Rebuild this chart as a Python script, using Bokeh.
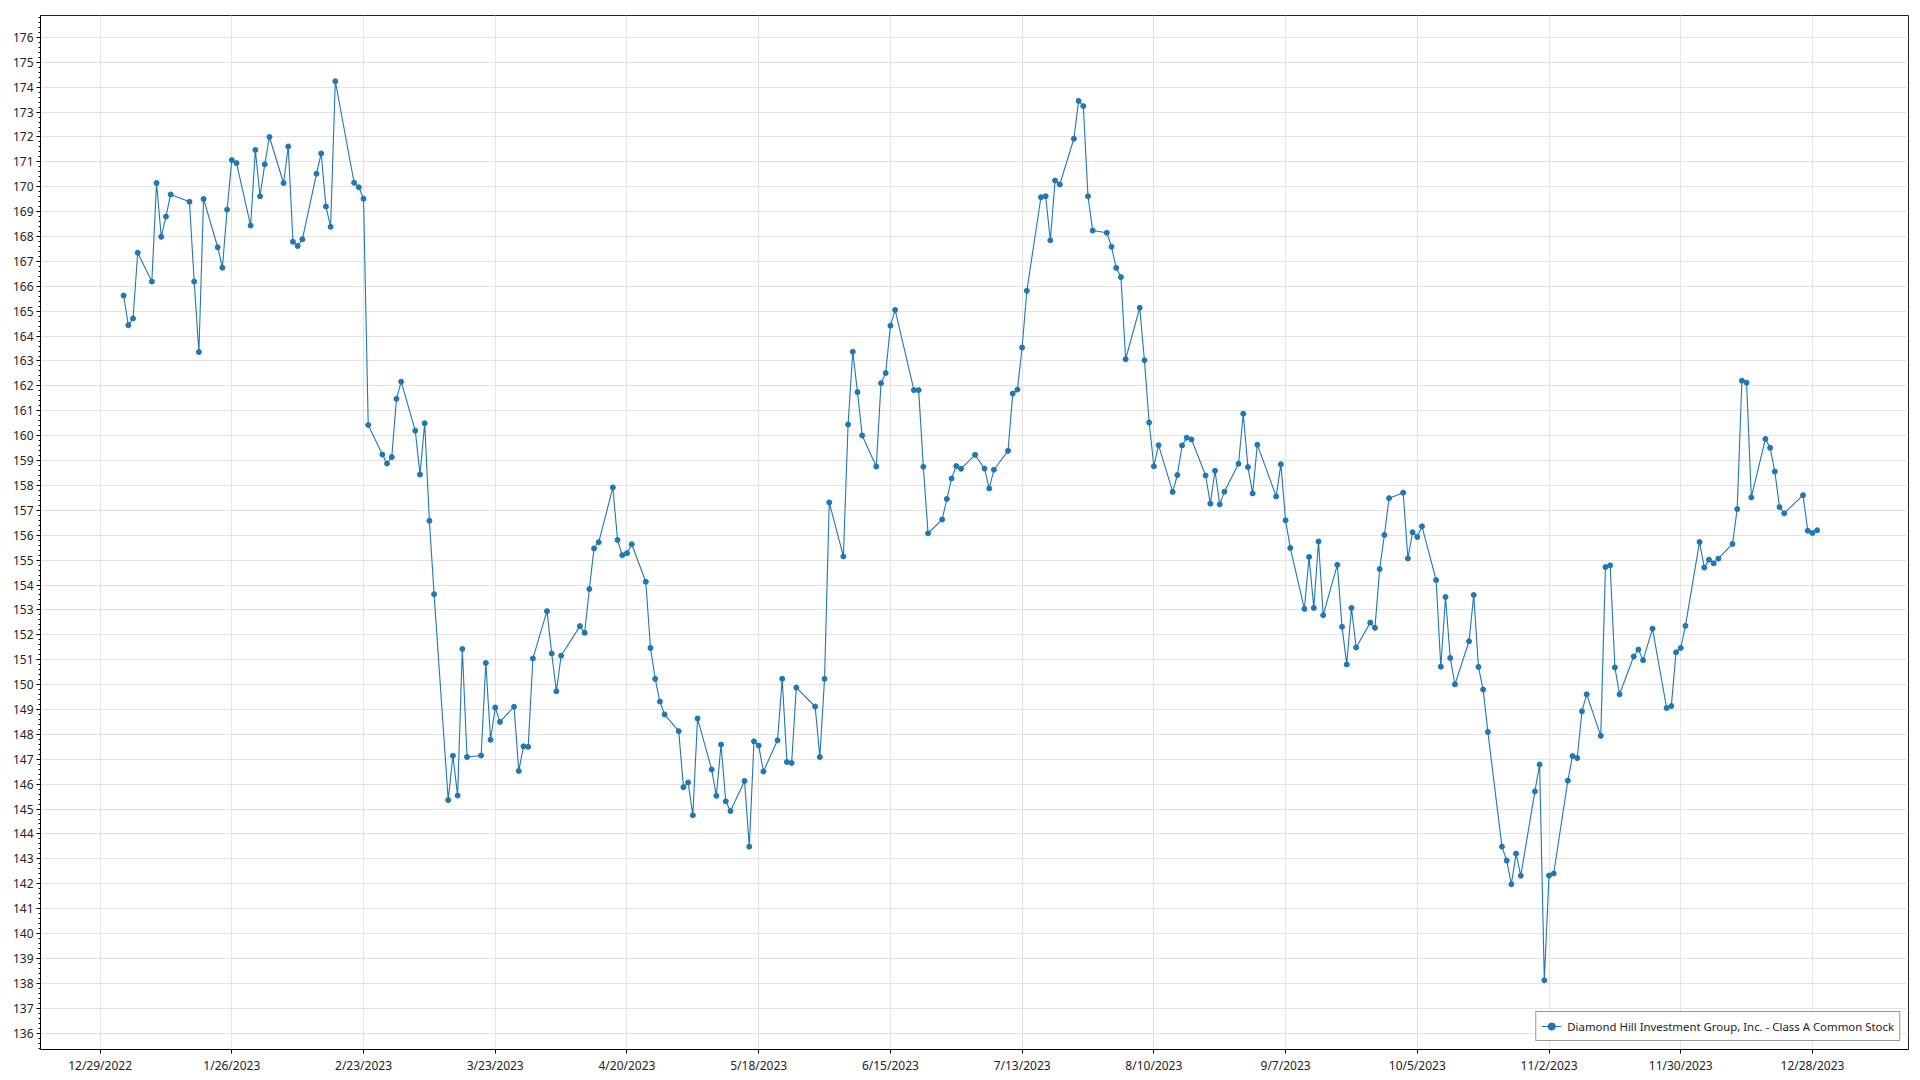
import pandas as pd
from bokeh.plotting import figure
from bokeh.models import (Range1d, FixedTicker, SingleIntervalTicker, CustomJSTickFormatter,
                          ColumnDataSource, Legend, LegendItem)
from bokeh.embed import file_html
from bokeh.resources import INLINE

series_name = "Diamond Hill Investment Group, Inc. - Class A Common Stock"

# trading days per month (2023) and closing values
days_jan = [3, 4, 5, 6, 9, 10, 11, 12, 13, 17, 18, 19, 20, 23, 24, 25, 26, 27, 30, 31]
vals_jan = [165.63, 164.44, 164.71, 167.35, 166.19, 170.15, 167.99, 168.80, 169.69, 169.40,
            166.19, 163.36, 169.51, 167.57, 166.75, 169.08, 171.07, 170.95, 168.44, 171.48]
days_feb = [1, 2, 3, 6, 7, 8, 9, 10, 13, 14, 15, 16, 17, 21, 22, 23, 24, 27, 28]
vals_feb = [169.62, 170.90, 172.00, 170.15, 171.62, 167.79, 167.62, 167.89, 170.52, 171.34,
            169.21, 168.39, 174.24, 170.16, 169.98, 169.52, 160.43, 159.24, 158.88]
days_mar = [1, 2, 3, 6, 7, 8, 9, 10, 13, 14, 15, 16, 17, 20, 21, 22, 23, 24, 27, 28, 29, 30, 31]
vals_mar = [159.14, 161.48, 162.17, 160.20, 158.44, 160.50, 156.58, 153.63, 145.36, 147.14,
            145.54, 151.43, 147.09, 147.15, 150.87, 147.78, 149.08, 148.50, 149.11, 146.53,
            147.52, 147.50, 151.05]
days_apr = [3, 4, 5, 6, 10, 11, 12, 13, 14, 17, 18, 19, 20, 21, 24, 25, 26, 27, 28]
vals_apr = [152.95, 151.25, 149.73, 151.16, 152.35, 152.08, 153.84, 155.47, 155.72, 157.92,
            155.81, 155.20, 155.28, 155.64, 154.13, 151.47, 150.23, 149.32, 148.80]
days_may = [1, 2, 3, 4, 5, 8, 9, 10, 11, 12, 15, 16, 17, 18, 19, 22, 23, 24, 25, 26, 30, 31]
vals_may = [148.13, 145.88, 146.07, 144.75, 148.64, 146.59, 145.53, 147.59, 145.31, 144.92,
            146.13, 143.49, 147.72, 147.55, 146.51, 147.76, 150.23, 146.89, 146.85, 149.88,
            149.12, 147.09]
days_jun = [1, 2, 5, 6, 7, 8, 9, 12, 13, 14, 15, 16, 20, 21, 22, 23, 26, 27, 28, 29, 30]
vals_jun = [150.23, 157.32, 155.15, 160.45, 163.37, 161.75, 160.01, 158.76, 162.11, 162.52,
            164.42, 165.05, 161.83, 161.83, 158.75, 156.08, 156.63, 157.46, 158.28, 158.78, 158.67]
days_jul = [3, 5, 6, 7, 10, 11, 12, 13, 14, 17, 18, 19, 20, 21, 24, 25, 26, 27, 28, 31]
vals_jul = [159.23, 158.68, 157.88, 158.63, 159.39, 161.69, 161.85, 163.54, 165.82, 169.58,
            169.62, 167.85, 170.25, 170.09, 171.93, 173.45, 173.24, 169.62, 168.24, 168.15]
days_aug = [1, 2, 3, 4, 7, 8, 9, 10, 11, 14, 15, 16, 17, 18, 21, 22, 23, 24, 25, 28, 29, 30, 31]
vals_aug = [167.59, 166.74, 166.37, 163.07, 165.14, 163.03, 160.53, 158.77, 159.62, 157.74,
            158.42, 159.61, 159.92, 159.85, 158.40, 157.27, 158.59, 157.24, 157.75, 158.87,
            160.88, 158.74, 157.68]
days_sep = [1, 5, 6, 7, 8, 11, 12, 13, 14, 15, 18, 19, 20, 21, 22, 25, 26, 27, 28, 29]
vals_sep = [159.64, 157.56, 158.85, 156.60, 155.49, 153.04, 155.13, 153.08, 155.75, 152.79,
            154.81, 152.32, 150.81, 153.08, 151.49, 152.49, 152.28, 154.64, 156.01, 157.49]
days_oct = [2, 3, 4, 5, 6, 9, 10, 11, 12, 13, 16, 17, 18, 19, 20, 23, 24, 25, 26, 27, 30, 31]
vals_oct = [157.71, 155.07, 156.12, 155.93, 156.36, 154.20, 150.72, 153.52, 151.07, 150.01,
            151.74, 153.60, 150.71, 149.80, 148.10, 143.49, 142.93, 141.98, 143.21, 142.32,
            145.71, 146.79]
days_nov = [1, 2, 3, 6, 7, 8, 9, 10, 13, 14, 15, 16, 17, 20, 21, 22, 24, 27, 28, 29, 30]
vals_nov = [138.12, 142.33, 142.41, 146.14, 147.13, 147.05, 148.93, 149.61, 147.94, 154.72,
            154.79, 150.69, 149.61, 151.13, 151.41, 150.98, 152.25, 149.06, 149.14, 151.30, 151.47]
days_dec = [1, 4, 5, 6, 7, 8, 11, 12, 13, 14, 15, 18, 19, 20, 21, 22, 26, 27, 28, 29]
vals_dec = [152.36, 155.73, 154.70, 155.02, 154.87, 155.06, 155.65, 157.05, 162.21, 162.13,
            157.52, 159.87, 159.51, 158.56, 157.13, 156.88, 157.61, 156.18, 156.09, 156.20]

tick_dates = ["2022-12-29", "2023-01-26", "2023-02-23", "2023-03-23", "2023-04-20",
              "2023-05-18", "2023-06-15", "2023-07-13", "2023-08-10", "2023-09-07",
              "2023-10-05", "2023-11-02", "2023-11-30", "2023-12-28"]

months = [(1, days_jan, vals_jan), (2, days_feb, vals_feb), (3, days_mar, vals_mar),
          (4, days_apr, vals_apr), (5, days_may, vals_may), (6, days_jun, vals_jun),
          (7, days_jul, vals_jul), (8, days_aug, vals_aug), (9, days_sep, vals_sep),
          (10, days_oct, vals_oct), (11, days_nov, vals_nov), (12, days_dec, vals_dec)]

dates, closes = [], []
for m, ds, vs in months:
    for d, v in zip(ds, vs):
        dates.append(pd.Timestamp(2023, m, d))
        closes.append(v)

src = ColumnDataSource(dict(date=dates, close=closes))

color = "#1f77b4"
font = "Noto Sans"

p = figure(width=1916, height=1076, x_axis_type="datetime", output_backend="svg",
           toolbar_location=None,
           x_range=Range1d(pd.Timestamp("2022-12-16 08:00"), pd.Timestamp("2024-01-17 10:00")),
           y_range=Range1d(135.34, 176.88),
           min_border_left=40, min_border_right=8, min_border_top=15, min_border_bottom=26)

p.background_fill_color = "white"
p.border_fill_color = "white"
p.outline_line_color = "#222222"
p.outline_line_width = 1

ln = p.line("date", "close", source=src, line_color=color, line_width=1.1)
sc = p.scatter("date", "close", source=src, size=5, fill_color=color, line_color=color)

tick_ms = [pd.Timestamp(t).value // 10**6 for t in tick_dates]
p.xaxis.ticker = FixedTicker(ticks=tick_ms, minor_ticks=[])
p.xaxis.formatter = CustomJSTickFormatter(code="""
const d = new Date(tick);
return (d.getUTCMonth()+1) + "/" + d.getUTCDate() + "/" + d.getUTCFullYear();
""")
p.yaxis.ticker = SingleIntervalTicker(interval=1, num_minor_ticks=5)

for ax in (p.xaxis, p.yaxis):
    ax.axis_line_color = "black"
    ax.axis_line_width = 1
    ax.major_tick_line_color = "black"
    ax.minor_tick_line_color = "black"
    ax.major_tick_in = 0
    ax.major_tick_out = 4
    ax.minor_tick_in = 0
    ax.minor_tick_out = 2
    ax.major_label_text_font = font
    ax.major_label_text_font_size = "12px"
    ax.major_label_text_color = "#222222"
    ax.major_label_standoff = 3

p.xgrid.ticker = p.xaxis.ticker
p.xgrid.grid_line_color = "#e3e3e3"
p.ygrid.grid_line_color = "#e3e3e3"
p.xgrid.grid_line_width = 1
p.ygrid.grid_line_width = 1

legend = Legend(items=[LegendItem(label=series_name, renderers=[ln, sc])],
                location="bottom_right")
legend.label_text_font = font
legend.label_text_font_size = "11.4px"
legend.label_text_color = "#222222"
legend.border_line_color = "#333333"
legend.border_line_width = 1
legend.background_fill_alpha = 1
legend.margin = 8
legend.padding = 5
legend.glyph_width = 20
legend.glyph_height = 18
legend.label_height = 18
legend.label_standoff = 6
p.add_layout(legend)

open("out.html", "w").write(file_html(p, INLINE))
